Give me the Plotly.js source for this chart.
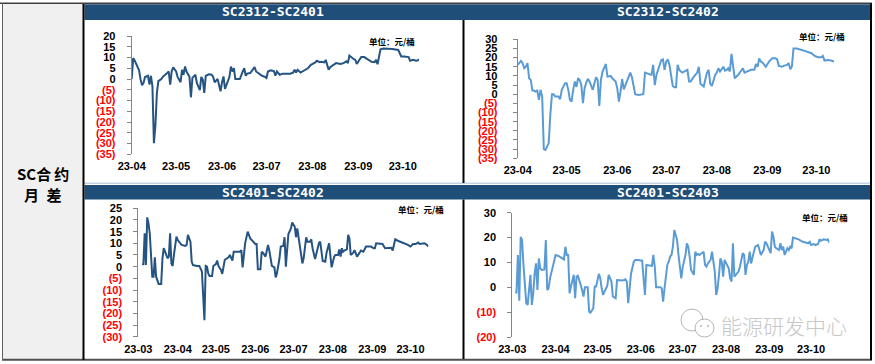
<!DOCTYPE html>
<html>
<head>
<meta charset="utf-8">
<script src="https://cdn.plot.ly/plotly-3.0.1.min.js"></script>
<style>
html, body { margin: 0; padding: 0; background: #ffffff; }
#chart { width: 875px; height: 364px; }
</style>
</head>
<body>
<div id="chart"></div>
<script>
// ---------- DATA ----------
const YEAR = '2023-';

const titles = ['SC2312-SC2401', 'SC2312-SC2402', 'SC2401-SC2402', 'SC2401-SC2403'];
const unitLabel = '单位：元/桶';
const sideLabel1 = 'SC合\u2009约';
const sideLabel2 = '月\u2002差';
const watermark = '能源研发中心';

// SC2312-SC2401
const p1Dates = ['04-01','04-02','04-03','04-05','04-06','04-07','04-08','04-09','04-10','04-12','04-13','04-14','04-15','04-16','04-17','04-18','04-19','04-21','04-22','04-25','04-26','04-27','04-28','04-29',
 '05-01','05-02','05-04','05-05','05-06','05-07','05-08','05-10','05-11','05-12','05-14','05-15','05-17','05-18','05-19','05-20','05-21','05-23','05-25','05-26','05-27','05-29','05-30','05-31',
 '06-01','06-02','06-03','06-05','06-06','06-07','06-08','06-09','06-10','06-11','06-13','06-15','06-16','06-17','06-18','06-20','06-22','06-23','06-24','06-26','06-28','06-30',
 '07-01','07-02','07-04','07-06','07-07','07-08','07-10','07-12','07-15','07-17','07-19','07-20','07-21','07-22','07-24','07-27','07-29','07-31',
 '08-03','08-04','08-06','08-07','08-09','08-10','08-12','08-13','08-15','08-17','08-20','08-22','08-24','08-25','08-26','08-27','08-29','08-30','08-31',
 '09-02','09-03','09-05','09-08','09-10','09-12','09-13','09-14','09-16','09-18','09-21','09-24','09-28','09-29','09-30',
 '10-02','10-05','10-06','10-08','10-10','10-11','10-12'];
const p1Values = [0,9.7,8.6,5.8,4,-0.3,-2.9,-1.8,0.9,1.5,-2.6,1.5,-3.4,-29.8,-21.8,-6.5,-1,0,1,2.8,3.5,-2.6,3.5,5.4,
 3.5,1,-1.5,4.3,2,5.8,3.5,1,-8.5,0.5,2,-1.8,-5.2,1,-0.3,-6.5,1.5,2.2,2,1,-1.5,0,-3.7,-5.7,
 -1.5,1.2,-4.6,-1,1,5.8,3.5,5,0,0,0,3.5,5,1.5,2.5,2.8,4.3,5.5,3.5,2.5,1.5,1,
 0.5,3.5,4,3.7,1.5,3.5,2,2.5,2.5,2.5,3,4.3,3,4.3,3,4,5,6.6,
 7.7,8.5,7.8,8,7.7,8.9,4.3,5.5,6.6,7.4,7,7.4,8.2,7.4,10.9,10.2,9.2,8.9,7,
 9.2,10.2,10.2,8.9,8,7.8,8.9,6.9,13.8,14.2,14.2,14,13.5,12,10.5,
 10.5,10.2,8.5,8.9,8.5,8.6,9.2];

// SC2312-SC2402
const p2Dates = ['04-01','04-03','04-04','04-05','04-06','04-07','04-08','04-09','04-10','04-11','04-12','04-13','04-14','04-15','04-16','04-17','04-18','04-20','04-21','04-22','04-23','04-24','04-26','04-27','04-28','04-30',
 '05-01','05-02','05-03','05-04','05-05','05-06','05-07','05-08','05-09','05-10','05-11','05-12','05-13','05-14','05-15','05-16','05-17','05-19','05-20','05-21','05-22','05-23','05-24','05-25','05-26','05-28','05-29','05-31',
 '06-01','06-02','06-03','06-04','06-05','06-06','06-07','06-08','06-09','06-10','06-11','06-12','06-14','06-16','06-17','06-18','06-20','06-22','06-23','06-24','06-25','06-26','06-28','06-29','06-30',
 '07-01','07-02','07-03','07-04','07-05','07-06','07-07','07-08','07-09','07-10','07-11','07-12','07-14','07-15','07-16','07-18','07-20','07-21','07-22','07-23','07-24','07-25','07-26','07-27','07-28','07-29','07-30','07-31',
 '08-01','08-02','08-03','08-05','08-06','08-07','08-08','08-09','08-10','08-11','08-12','08-14','08-16','08-17','08-18','08-20','08-22','08-24','08-25','08-26','08-27','08-28','08-29','08-31',
 '09-02','09-04','09-06','09-07','09-08','09-10','09-11','09-13','09-14','09-15','09-16','09-17','09-19','09-22','09-25','09-28','09-30',
 '10-02','10-04','10-05','10-06','10-08','10-10','10-12'];
const p2Values = [16,18.2,17,14.2,15,17,8.7,7.8,2,2,1.5,2,-3,2.4,-1.3,-30,-30.4,-26.7,-11,0,0,-1.3,-1.3,-2.7,2.4,6,
 6,2.4,-3,-4,2.4,7,4,8.7,7.8,5,-4.9,3.3,6.4,8.4,7,4.2,2.4,9.3,7.8,-6.4,7.8,12.4,15,16.5,9.6,10,8.7,7,
 3.3,-4,1.5,8.2,2.7,5,7,9.6,11.8,9.3,5,0,-0.4,0,0,11.8,11,10.5,16,5,10.5,13.3,18.7,19,13.3,
 17.8,19,16,9.6,4.5,3.8,3.8,16,13.3,12.4,11.8,12.4,13.3,7,7,9.6,11.8,15,5.6,5,4.2,8.2,11.8,13.3,5.6,4.5,8.2,10.5,
 11.8,14.2,12.4,15,12.9,13.3,14.2,12.4,22,14.2,8.7,10.5,13.3,14.2,11.8,12.7,13.3,13.3,16.5,15,19.6,17.8,17.3,15,
 17.8,19.6,19.6,19,15.5,15,15.5,16,17,13.6,15,25,25,24.2,23.3,22.4,20.9,
 20.2,20.2,20.9,18.4,18.7,18.4,17.8];

// SC2401-SC2402
const p3Dates = ['03-04','03-05','03-06','03-07','03-08','03-09','03-10','03-11','03-12','03-13','03-14','03-15','03-16','03-17','03-19','03-20','03-21','03-23','03-24','03-25','03-26','03-27','03-28','03-29','03-31',
 '04-01','04-04','04-07','04-08','04-09','04-11','04-12','04-13','04-16','04-18','04-20','04-22','04-23','04-24','04-25','04-26','04-28','04-29',
 '05-01','05-02','05-03','05-05','05-06','05-08','05-09','05-11','05-12','05-14','05-15','05-17','05-20','05-21','05-22','05-24','05-25','05-26','05-28','05-30',
 '06-01','06-02','06-03','06-05','06-06','06-07','06-09','06-11','06-12','06-14','06-16','06-17','06-18','06-20','06-21','06-23','06-24','06-25','06-26','06-27','06-29','06-30',
 '07-02','07-03','07-04','07-05','07-07','07-08','07-09','07-11','07-12','07-14','07-15','07-16','07-18','07-19','07-21','07-22','07-24','07-26','07-27','07-29','07-30','07-31',
 '08-02','08-03','08-05','08-06','08-07','08-08','08-09','08-10','08-12','08-13','08-14','08-15','08-16','08-17','08-18','08-20','08-22','08-23','08-25','08-27','08-29','08-31',
 '09-02','09-03','09-04','09-07','09-09','09-11','09-13','09-16','09-17','09-19','09-21','09-25','09-29',
 '10-01','10-03','10-05','10-07','10-08','10-10','10-12','10-14','10-15'];
const p3Values = [1,1,14.3,0.7,21.1,18.6,14.3,4.3,-4.3,-4.3,4,-4.3,-6.4,-7.4,-7.4,3.6,7.9,4.3,3.6,4.3,14.3,1.4,0.3,5,12.9,
 11.4,9.3,8.9,9.3,13.6,10.7,2.1,0.7,0.3,0.3,-2.1,-22.9,0.3,0,-2.9,-4,-4,0.3,
 1.1,2.6,0.3,-1.4,-3.1,2.9,3.3,4,5,2.6,6.4,6.4,6.4,7.1,-0.3,10,12.9,15,12.1,11.1,
 9.7,9.7,-1.1,-1.1,6.4,6,4.3,9.3,6.9,0.3,-0.3,-4.6,-2.9,3.6,8.6,8.9,12.6,0,8.6,14,16.4,18.9,
 17.1,12.6,16.4,12.9,4.3,1.4,3.6,12.6,10.7,10.7,11.7,7.9,3.3,5.7,10,10.7,2.4,2.1,6,10,4.3,-0.3,
 4.3,5,5,7.4,4.3,7.9,6.4,6.9,7.4,13.6,12.1,5,5.4,6,7.1,4.3,6,6.9,6.4,8.6,8.6,8.6,
 7.9,7.9,10,10,9.7,7.9,8.1,8.1,6.9,11.7,11.1,10.3,9.3,
 8.6,9.7,9.7,10.3,9.7,9.7,10,9.3,8.6];

// SC2401-SC2403
const p4Dates = ['03-03','03-04','03-05','03-06','03-07','03-08','03-09','03-10','03-11','03-12','03-14','03-15','03-16','03-17','03-18','03-19','03-20','03-21','03-22','03-24','03-25','03-26','03-27','03-28','03-30',
 '04-01','04-03','04-05','04-07','04-08','04-09','04-10','04-11','04-12','04-14','04-15','04-16','04-17','04-18','04-20','04-21','04-22','04-24','04-25','04-26','04-28','04-29','04-30',
 '05-02','05-03','05-04','05-05','05-06','05-08','05-09','05-11','05-12','05-14','05-15','05-17','05-19','05-21','05-22','05-23','05-24','05-25','05-27','05-28','05-30',
 '06-02','06-03','06-04','06-05','06-08','06-09','06-10','06-11','06-12','06-15','06-16','06-17','06-18','06-20','06-21','06-22','06-23','06-24','06-25','06-27','06-28','06-29','06-30',
 '07-01','07-03','07-04','07-05','07-06','07-07','07-09','07-10','07-11','07-12','07-13','07-15','07-16','07-17','07-18','07-19','07-21','07-22','07-23','07-24','07-25','07-26','07-27','07-28','07-29','07-30','07-31',
 '08-01','08-03','08-04','08-05','08-06','08-07','08-08','08-10','08-11','08-12','08-13','08-14','08-15','08-16','08-17','08-18','08-19','08-21','08-22','08-24','08-25','08-26','08-28','08-29','08-30','08-31',
 '09-02','09-03','09-04','09-05','09-06','09-08','09-09','09-10','09-11','09-12','09-13','09-14','09-15','09-16','09-17','09-18','09-22','09-25','09-29','09-30',
 '10-01','10-03','10-04','10-06','10-07','10-08','10-10','10-12','10-13','10-14'];
const p4Values = [-2.1,-2.1,13,-5.4,20.3,19,9,0.3,-6.4,-7.1,5,-7.1,-2.4,5.6,9.6,-1.1,11.6,7.6,7,7.2,19,-1.1,-0.4,3.6,8.3,
 13,12.6,12,11.2,16.3,13,13,-2.4,0.3,5,-4.4,4.3,4.6,2.9,-1.1,-3.7,0,0,-9.8,-10.2,-8.4,0.3,0.3,
 5.4,3.6,-0.4,-3.1,-1.7,0.5,5,2.3,-3.7,-4.4,2.9,2.7,2.7,3.2,2.3,-6.4,0.9,5.4,10.3,11,11,
 10.7,3.6,-3.1,9,8.6,8.6,13,8.3,0,0,-0.4,-5.8,-0.4,9,10.3,12.3,13,16.3,23,19,13,8.3,3.6,
 8,13,17.7,16.3,12.3,7,5,14.3,13,13.4,13,13.9,14.3,9,8.3,9.6,11,14.3,9.9,6.3,-3.1,-0.4,5,11.6,10.3,4.3,11,
 9.9,7.6,3.6,2.3,17.7,4.3,5,6.3,8.3,11,13.7,13,5,9,10.3,14.3,9.6,14.3,16.3,17,15,13,15,18.3,17.7,16.3,
 13.7,22.4,20.3,16.3,15.7,15,17.7,15,16.3,13,14.7,15.7,15,16.3,15.7,20,19.3,18.3,17.7,18.3,
 17,17.4,17,17.4,19.3,18.7,19.3,19,19.3,17.9];

// Axis ticks
const xTicksTop = ['04-01','05-01','06-01','07-01','08-01','09-01','10-01'];
const xLabelsTop = ['23-04','23-05','23-06','23-07','23-08','23-09','23-10'];
const xTicksBottom = ['03-01','04-01','05-01','06-01','07-01','08-01','09-01','10-01'];
const xLabelsBottom = ['23-03','23-04','23-05','23-06','23-07','23-08','23-09','23-10'];
const yTicks1 = [20,15,10,5,0,-5,-10,-15,-20,-25,-30,-35];
const yLabels1 = ['20','15','10','5','0','(5)','(10)','(15)','(20)','(25)','(30)','(35)'];
const yTicks2 = [30,25,20,15,10,5,0,-5,-10,-15,-20,-25,-30,-35];
const yLabels2 = ['30','25','20','15','10','5','0','(5)','(10)','(15)','(20)','(25)','(30)','(35)'];
const yTicks3 = [25,20,15,10,5,0,-5,-10,-15,-20,-25,-30];
const yLabels3 = ['25','20','15','10','5','0','(5)','(10)','(15)','(20)','(25)','(30)'];
const yTicks4 = [30,20,10,0,-10,-20];
const yLabels4 = ['30','20','10','0','(10)','(20)'];

// ---------- LAYOUT ----------
const W = 875, H = 364;
const X = v => v / W;
const Y = v => 1 - v / H;
const DARK = '#255483', LIGHT = '#5b9bd5', HEAD = '#1f4e79';

const panels = [
  {dates: p1Dates, values: p1Values, color: DARK, title: titles[0], x0: 131.7, x1: 419, yTop: 36, yBot: 154.3,
   yr: [-35, 20], yt: yTicks1, yl: yLabels1, xr: ['2023-04-01', '2023-10-12'], xt: xTicksTop, xl: xLabelsTop,
   standoff: 9, tx: 273, ty: 12, ux: 417, uy: 41},
  {dates: p2Dates, values: p2Values, color: LIGHT, title: titles[1], x0: 517.7, x1: 834.3, yTop: 39.3, yBot: 158.3,
   yr: [-35, 30], yt: yTicks2, yl: yLabels2, xr: ['2023-04-01', '2023-10-12'], xt: xTicksTop, xl: xLabelsTop,
   standoff: 13, tx: 667.5, ty: 12, ux: 847, uy: 36},
  {dates: p3Dates, values: p3Values, color: DARK, title: titles[2], x0: 138.3, x1: 428.3, yTop: 208.3, yBot: 336.7,
   yr: [-30, 25], yt: yTicks3, yl: yLabels3, xr: ['2023-03-01', '2023-10-15'], xt: xTicksBottom, xl: xLabelsBottom,
   standoff: 9, tx: 273, ty: 192.3, ux: 446, uy: 209},
  {dates: p4Dates, values: p4Values, color: LIGHT, title: titles[3], x0: 512.3, x1: 829.3, yTop: 212.7, yBot: 337,
   yr: [-20, 30], yt: yTicks4, yl: yLabels4, xr: ['2023-03-01', '2023-10-14'], xt: xTicksBottom, xl: xLabelsBottom,
   standoff: 9, tx: 667.5, ty: 192.3, ux: 850, uy: 217}
];

const tickFont = {family: 'Liberation Sans, Arial, sans-serif', size: 11, color: '#000000', weight: 'bold'};

const shapes = [
  // left label cell
  {type: 'rect', xref: 'paper', yref: 'paper', x0: X(2.5), x1: X(83), y0: Y(360), y1: Y(4), fillcolor: '#f0f0f0', line: {width: 0}, layer: 'below'},
  // header bars
  {type: 'rect', xref: 'paper', yref: 'paper', x0: X(84.5), x1: X(870), y0: Y(20), y1: Y(4.2), fillcolor: HEAD, line: {width: 0}, layer: 'below'},
  {type: 'rect', xref: 'paper', yref: 'paper', x0: X(84.5), x1: X(870), y0: Y(199.5), y1: Y(185), fillcolor: HEAD, line: {width: 0}, layer: 'below'},
  // row separator
  {type: 'line', xref: 'paper', yref: 'paper', x0: X(84.5), x1: X(870), y0: Y(183.3), y1: Y(183.3), line: {color: '#c3d3e3', width: 1.5}},
  // top border
  {type: 'line', xref: 'paper', yref: 'paper', x0: 0, x1: X(872), y0: Y(3.2), y1: Y(3.2), line: {color: '#3f3f3f', width: 1.5}},
  // bottom border
  {type: 'line', xref: 'paper', yref: 'paper', x0: X(2), x1: X(872), y0: Y(359.7), y1: Y(359.7), line: {color: '#505050', width: 2}},
  // left outer border
  {type: 'line', xref: 'paper', yref: 'paper', x0: X(2.5), x1: X(2.5), y0: Y(3.2), y1: Y(360), line: {color: '#606060', width: 1}},
  // black cell divider left
  {type: 'line', xref: 'paper', yref: 'paper', x0: X(83.5), x1: X(83.5), y0: Y(4), y1: Y(360), line: {color: '#000000', width: 2}},
  // black panel dividers
  {type: 'line', xref: 'paper', yref: 'paper', x0: X(463.5), x1: X(463.5), y0: Y(20), y1: Y(183), line: {color: '#000000', width: 2}},
  {type: 'line', xref: 'paper', yref: 'paper', x0: X(463.5), x1: X(463.5), y0: Y(199.5), y1: Y(359), line: {color: '#000000', width: 2}},
  // right border
  {type: 'line', xref: 'paper', yref: 'paper', x0: X(871), x1: X(871), y0: Y(3.5), y1: Y(360), line: {color: '#000000', width: 2}},
  // watermark icon (two outlined bubbles)
  {type: 'circle', xref: 'paper', yref: 'paper', x0: X(681), x1: X(703), y0: Y(331), y1: Y(309), line: {color: '#b5b5b5', width: 1}},
  {type: 'circle', xref: 'paper', yref: 'paper', x0: X(695), x1: X(714), y0: Y(337), y1: Y(319), fillcolor: '#ffffff', line: {color: '#b5b5b5', width: 1}},
  {type: 'circle', xref: 'paper', yref: 'paper', x0: X(700), x1: X(702), y0: Y(327), y1: Y(325), fillcolor: '#b5b5b5', line: {width: 0}},
  {type: 'circle', xref: 'paper', yref: 'paper', x0: X(707), x1: X(709), y0: Y(327), y1: Y(325), fillcolor: '#b5b5b5', line: {width: 0}}
];

const annotations = [
  {xref: 'paper', yref: 'paper', x: X(42.5), y: Y(173), text: sideLabel1, showarrow: false, xanchor: 'center', yanchor: 'middle',
   font: {family: 'Noto Sans CJK SC, sans-serif', size: 15, color: '#000000', weight: 'bold'}},
  {xref: 'paper', yref: 'paper', x: X(42.5), y: Y(194), text: sideLabel2, showarrow: false, xanchor: 'center', yanchor: 'middle',
   font: {family: 'Noto Sans CJK SC, sans-serif', size: 15, color: '#000000', weight: 'bold'}},
  {xref: 'paper', yref: 'paper', x: X(784), y: Y(325), text: watermark, showarrow: false, xanchor: 'center', yanchor: 'middle',
   font: {family: 'Noto Sans CJK SC, sans-serif', size: 21, color: '#c8c8c8', weight: 300}}
];

const layout = {
  width: W, height: H,
  margin: {l: 0, r: 0, t: 0, b: 0, pad: 0},
  paper_bgcolor: '#ffffff', plot_bgcolor: 'rgba(0,0,0,0)',
  showlegend: false, hovermode: false,
  shapes: shapes, annotations: annotations
};

const traces = [];
panels.forEach((p, i) => {
  const n = i + 1;
  const dx = [X(p.x0), X(p.x1)];
  const dy = [Y(p.yBot), Y(p.yTop)];
  const xt = p.xt.map(d => YEAR + d);
  layout['xaxis' + n] = {
    domain: dx, anchor: 'y' + n, type: 'date', range: p.xr, tickmode: 'array', tickvals: xt, ticktext: p.xl,
    showline: false, showgrid: false, zeroline: false, ticks: '', tickfont: tickFont, ticklabelstandoff: 4, fixedrange: true
  };
  layout['yaxis' + n] = {
    domain: dy, anchor: 'x' + n, range: p.yr, tickmode: 'array', tickvals: p.yt,
    ticktext: p.yl.map(t => t.startsWith('(') ? '<span style="color:#ff0000">' + t + '</span>' : t),
    showline: true, linecolor: '#868686', linewidth: 1, ticks: 'outside', ticklen: 4, tickcolor: '#868686',
    showgrid: false, zeroline: false, tickfont: tickFont, ticklabelstandoff: p.standoff, fixedrange: true
  };
  const zeroPos = dy[0] + (0 - p.yr[0]) / (p.yr[1] - p.yr[0]) * (dy[1] - dy[0]);
  layout['xaxis' + (n + 4)] = {
    overlaying: 'x' + n, anchor: 'free', position: zeroPos, domain: dx, type: 'date', range: p.xr,
    tickmode: 'array', tickvals: xt, showticklabels: false, showline: true, linecolor: '#2b2b2b', linewidth: 1,
    ticks: 'outside', ticklen: 3, tickcolor: '#2b2b2b', showgrid: false, zeroline: false, fixedrange: true
  };
  traces.push({
    x: p.dates.map(d => YEAR + d), y: p.values, xaxis: 'x' + n, yaxis: 'y' + n,
    type: 'scatter', mode: 'lines', line: {color: p.color, width: 2}, hoverinfo: 'skip'
  });
  annotations.push({xref: 'paper', yref: 'paper', x: X(p.tx), y: Y(p.ty), text: p.title, showarrow: false,
    xanchor: 'center', yanchor: 'middle', font: {family: 'DejaVu Sans Mono, monospace', size: 13, color: '#ffffff', weight: 'bold'}});
  annotations.push({xref: 'paper', yref: 'paper', x: X(p.ux), y: Y(p.uy), text: unitLabel, showarrow: false,
    xanchor: 'right', yanchor: 'middle', font: {family: 'Noto Sans CJK SC, sans-serif', size: 8.5, color: '#000000', weight: 'bold'}});
});

Plotly.newPlot('chart', traces, layout, {staticPlot: true, displayModeBar: false});
</script>
</body>
</html>
